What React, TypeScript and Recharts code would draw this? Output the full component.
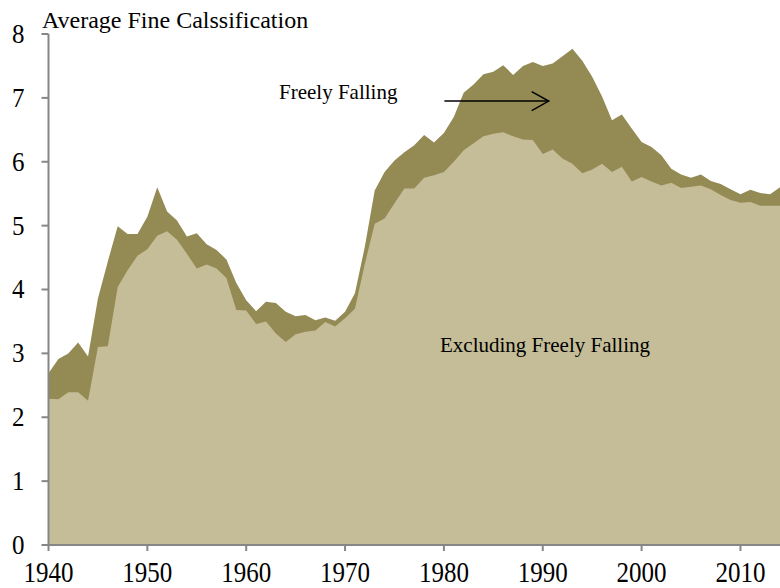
import React from 'react';
import { AreaChart, Area, XAxis, YAxis, ReferenceLine } from 'recharts';

const years = [
  1940, 1941, 1942, 1943, 1944, 1945, 1946, 1947, 1948, 1949,
  1950, 1951, 1952, 1953, 1954, 1955, 1956, 1957, 1958, 1959,
  1960, 1961, 1962, 1963, 1964, 1965, 1966, 1967, 1968, 1969,
  1970, 1971, 1972, 1973, 1974, 1975, 1976, 1977, 1978, 1979,
  1980, 1981, 1982, 1983, 1984, 1985, 1986, 1987, 1988, 1989,
  1990, 1991, 1992, 1993, 1994, 1995, 1996, 1997, 1998, 1999,
  2000, 2001, 2002, 2003, 2004, 2005, 2006, 2007, 2008, 2009,
  2010, 2011, 2012, 2013, 2014,
];

// all countries, freely falling included
const withFreelyFalling = [
  2.69, 2.91, 3.0, 3.17, 2.95, 3.86, 4.44, 4.99, 4.87, 4.87,
  5.14, 5.6, 5.22, 5.08, 4.83, 4.88, 4.71, 4.62, 4.47, 4.1,
  3.83, 3.66, 3.81, 3.79, 3.65, 3.58, 3.6, 3.52, 3.56, 3.51,
  3.65, 3.94, 4.67, 5.55, 5.84, 6.02, 6.15, 6.26, 6.42, 6.3,
  6.45, 6.7, 7.08, 7.21, 7.37, 7.41, 7.51, 7.36, 7.5, 7.56,
  7.5, 7.54, 7.65, 7.77, 7.58, 7.33, 7.02, 6.65, 6.74, 6.52,
  6.31, 6.23, 6.1, 5.89, 5.8, 5.75, 5.8, 5.7, 5.65, 5.57,
  5.49, 5.56, 5.51, 5.49, 5.6,
];

const excludingFreelyFalling = [
  2.29, 2.28, 2.39, 2.39, 2.26, 3.1, 3.11, 4.04, 4.3, 4.53,
  4.63, 4.84, 4.91, 4.78, 4.56, 4.33, 4.39, 4.33, 4.18, 3.68,
  3.67, 3.46, 3.5, 3.31, 3.18, 3.3, 3.34, 3.36, 3.49, 3.42,
  3.55, 3.7, 4.4, 5.03, 5.11, 5.35, 5.58, 5.58, 5.75, 5.79,
  5.84, 6.0, 6.18, 6.29, 6.4, 6.44, 6.46, 6.4, 6.35, 6.34,
  6.12, 6.19, 6.05, 5.97, 5.82, 5.88, 5.97, 5.84, 5.92, 5.69,
  5.76, 5.69, 5.63, 5.67, 5.59, 5.61, 5.63, 5.57, 5.48, 5.4,
  5.36, 5.37, 5.31, 5.31, 5.31,
];

const xTicks = [1940, 1950, 1960, 1970, 1980, 1990, 2000, 2010];
const yTicks = [0, 1, 2, 3, 4, 5, 6, 7, 8];

const FONT = '"Liberation Serif", "Times New Roman", serif';
const AXIS = '#868686';

const chartData = years.map((year, i) => ({
  year,
  total: withFreelyFalling[i],
  excl: excludingFreelyFalling[i],
}));

// tick labels in the original are a bit taller than plain Times
const YearTick = (props: any) => {
  const { x, y, payload } = props;
  return (
    <g transform={`translate(${x},${y}) scale(1,1.14)`}>
      <text x={0} y={24.5} textAnchor="middle" fill="#000" fontSize={25} fontFamily={FONT}>
        {payload.value}
      </text>
    </g>
  );
};

const ValueTick = (props: any) => {
  const { x, y, payload } = props;
  return (
    <g transform={`translate(${x},${y}) scale(1,1.12)`}>
      <text x={0} y={8} textAnchor="end" fill="#000" fontSize={25} fontFamily={FONT}>
        {payload.value}
      </text>
    </g>
  );
};

// arrow annotation, drawn from the reference line's own coordinates
const ArrowShape = (props: any) => {
  const { x1, y1, x2, y2 } = props;
  return (
    <g>
      <line x1={x1} y1={y1} x2={x2} y2={y2} stroke="#000" strokeWidth={1.5} />
      <polyline
        points={`${x2 - 17},${y2 - 9.5} ${x2},${y2} ${x2 - 17},${y2 + 9.5}`}
        fill="none"
        stroke="#000"
        strokeWidth={1.5}
      />
    </g>
  );
};

export default function App() {
  return (
    <div style={{ position: 'relative', width: 780, height: 588, fontFamily: FONT, background: '#fff' }}>
      <style>{'body { margin: 0; }'}</style>
      <AreaChart width={780} height={588} data={chartData} margin={{ top: 34, right: 0, bottom: 0, left: 0 }}>
        <XAxis
          dataKey="year"
          type="number"
          domain={[1940, 2014]}
          ticks={xTicks}
          allowDataOverflow
          height={43}
          stroke={AXIS}
          strokeWidth={2}
          tickSize={6}
          tickMargin={3}
          tick={<YearTick />}
        />
        <YAxis
          type="number"
          domain={[0, 8]}
          ticks={yTicks}
          width={48.5}
          stroke={AXIS}
          strokeWidth={2}
          tickSize={7}
          tickMargin={17}
          tick={<ValueTick />}
        />
        <Area
          type="linear"
          dataKey="total"
          stroke="none"
          fill="#948A54"
          fillOpacity={1}
          isAnimationActive={false}
        />
        <Area
          type="linear"
          dataKey="excl"
          stroke="none"
          fill="#C4BD97"
          fillOpacity={1}
          isAnimationActive={false}
        />
        <ReferenceLine
          segment={[{ x: 1980.05, y: 6.95 }, { x: 1990.6, y: 6.95 }]}
          shape={ArrowShape}
        />
      </AreaChart>
      <div style={{ position: 'absolute', left: 42, top: 6, fontSize: 24, lineHeight: '28px', color: '#000', whiteSpace: 'nowrap' }}>
        Average Fine Calssification
      </div>
      <div style={{ position: 'absolute', left: 279, top: 79, fontSize: 21, lineHeight: '26px', color: '#000', whiteSpace: 'nowrap' }}>
        Freely Falling
      </div>
      <div style={{ position: 'absolute', left: 440, top: 332, fontSize: 21, lineHeight: '26px', color: '#000', whiteSpace: 'nowrap' }}>
        Excluding Freely Falling
      </div>
    </div>
  );
}
